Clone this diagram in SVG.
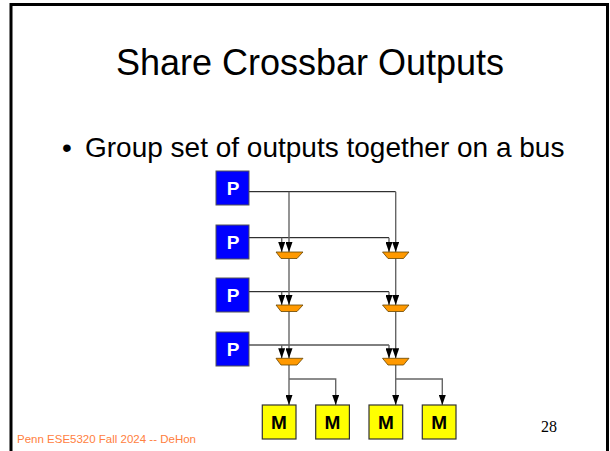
<svg xmlns="http://www.w3.org/2000/svg" width="610" height="451" viewBox="0 0 610 451">
<style>
.title{font-family:"Liberation Sans",Arial,sans-serif;font-size:36px;fill:#000}
.bul{font-family:"Liberation Sans",Arial,sans-serif;font-size:28px;fill:#000}
.foot{font-family:"Liberation Sans",Arial,sans-serif;font-size:11.5px;fill:#FF8040}
.num{font-family:"Liberation Serif","Times New Roman",serif;font-size:16px;fill:#000}
.p rect{fill:#0000FF;stroke:#555;stroke-width:1}
.p text{font-family:"Liberation Sans",Arial,sans-serif;font-size:19px;font-weight:bold;fill:#fff;text-anchor:middle}
.m rect{fill:#FFFF00;stroke:#333;stroke-width:1.2}
.m text{font-family:"Liberation Sans",Arial,sans-serif;font-size:19px;font-weight:bold;fill:#000;text-anchor:middle}
.mux polygon{fill:#FF9900;stroke:#664400;stroke-width:0.8}
.h{stroke:#000;stroke-width:1;fill:none}
.v{stroke:#666;stroke-width:1.4;fill:none}
</style>
<defs>
<marker id="ad" markerUnits="userSpaceOnUse" markerWidth="10" markerHeight="7" refX="10" refY="3.5" orient="auto" viewBox="0 0 10 7">
<path d="M0,0 L10,3.5 L0,7 Z" fill="#000"/>
</marker>
</defs>
<rect x="11" y="4.5" width="596.5" height="460" fill="none" stroke="#000" stroke-width="3"/>
<text class="title" x="310" y="75" text-anchor="middle">Share Crossbar Outputs</text>
<text class="bul" x="62" y="157">•</text>
<text class="bul" x="85" y="157">Group set of outputs together on a bus</text>
<text class="num" x="541" y="432">28</text>
<text class="foot" x="17" y="443">Penn ESE5320 Fall 2024 -- DeHon</text>
<g id="connectors">
<path class="h" d="M249,191.7 H395.7"/>
<path class="h" d="M249,237.7 H389"/>
<path class="h" d="M249,291.7 H389"/>
<path class="h" d="M249,345 H389"/>
<path class="v" d="M289,191.7 V252" marker-end="url(#ad)"/>
<path class="v" d="M289,258.5 V305" marker-end="url(#ad)"/>
<path class="v" d="M289,311.5 V358.3" marker-end="url(#ad)"/>
<path class="v" d="M289,365 V405" marker-end="url(#ad)"/>
<path class="v" d="M281.7,237.7 V252" marker-end="url(#ad)"/>
<path class="v" d="M281.7,291.7 V305" marker-end="url(#ad)"/>
<path class="v" d="M281.7,345 V358.3" marker-end="url(#ad)"/>
<path class="v" d="M395.7,191.7 V252" marker-end="url(#ad)"/>
<path class="v" d="M395.7,258.5 V305" marker-end="url(#ad)"/>
<path class="v" d="M395.7,311.5 V358.3" marker-end="url(#ad)"/>
<path class="v" d="M395.7,365 V405" marker-end="url(#ad)"/>
<path class="v" d="M389,237.7 V252" marker-end="url(#ad)"/>
<path class="v" d="M389,291.7 V305" marker-end="url(#ad)"/>
<path class="v" d="M389,345 V358.3" marker-end="url(#ad)"/>
<path class="v" d="M289,379 H335.7 V405" marker-end="url(#ad)"/>
<path class="v" d="M395.7,379 H442.3 V405" marker-end="url(#ad)"/>
</g>
<g id="mux11" class="mux"><polygon points="276,252 303,252 297,258.5 281,258.5"/></g>
<g id="mux12" class="mux"><polygon points="382.5,252 409,252 403.5,258.5 388,258.5"/></g>
<g id="mux21" class="mux"><polygon points="276,305 303,305 297,311.5 281,311.5"/></g>
<g id="mux22" class="mux"><polygon points="382.5,305 409,305 403.5,311.5 388,311.5"/></g>
<g id="mux31" class="mux"><polygon points="276,358.3 303,358.3 297,365 281,365"/></g>
<g id="mux32" class="mux"><polygon points="382.5,358.3 409,358.3 403.5,365 388,365"/></g>
<g id="P1" class="p"><rect x="216" y="171" width="33" height="34"/><text x="233" y="195">P</text></g>
<g id="P2" class="p"><rect x="216" y="225" width="33" height="34"/><text x="233" y="249">P</text></g>
<g id="P3" class="p"><rect x="216" y="278" width="33" height="34"/><text x="233" y="302">P</text></g>
<g id="P4" class="p"><rect x="216" y="332" width="33" height="34"/><text x="233" y="356">P</text></g>
<g id="M1" class="m"><rect x="262.3" y="405" width="33.7" height="34"/><text x="279" y="429">M</text></g>
<g id="M2" class="m"><rect x="315.7" y="405" width="33.7" height="34"/><text x="332.5" y="429">M</text></g>
<g id="M3" class="m"><rect x="369" y="405" width="33.7" height="34"/><text x="385.8" y="429">M</text></g>
<g id="M4" class="m"><rect x="422.3" y="405" width="33.7" height="34"/><text x="439.2" y="429">M</text></g>
</svg>
